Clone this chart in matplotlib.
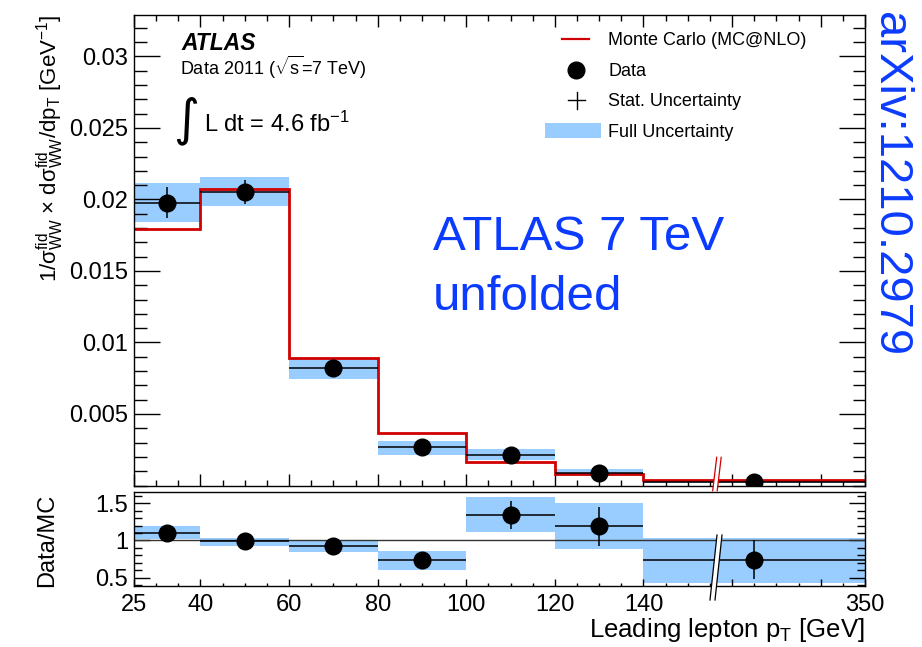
import numpy as np
import matplotlib
matplotlib.use("Agg")
import matplotlib.pyplot as plt
from matplotlib.lines import Line2D
from matplotlib.patches import Polygon, Rectangle
from matplotlib.ticker import MultipleLocator, FixedLocator, FixedFormatter
from matplotlib.transforms import Affine2D

# leading lepton pT bins [GeV]
bin_edges = [25, 40, 60, 80, 100, 120, 140, 350]

# normalised differential cross section (top panel)
data_val = [0.01976, 0.02052, 0.00819, 0.00267, 0.00213, 0.00090, 0.00024]
data_stat = [0.00108, 0.00084, 0.00030, 0.00014, 0.00012, 0.00006, 0.00006]
full_lo = [0.01843, 0.01955, 0.00745, 0.00213, 0.00178, 0.00069, 0.00016]
full_hi = [0.02115, 0.02157, 0.00882, 0.00311, 0.00255, 0.00113, 0.00034]
mc_val = [0.01794, 0.02073, 0.00889, 0.00365, 0.00162, 0.00080, 0.00036]

# Data/MC (bottom panel)
ratio_val = [1.10, 0.99, 0.92, 0.735, 1.34, 1.19, 0.745]
ratio_stat = [0.06, 0.04, 0.04, 0.05, 0.19, 0.265, 0.255]
ratio_lo = [1.02, 0.93, 0.84, 0.60, 1.11, 0.88, 0.43]
ratio_hi = [1.19, 1.04, 1.00, 0.86, 1.58, 1.50, 1.04]

tick_gev = [25, 40, 60, 80, 100, 120, 140, 350]
tick_labels = ["25", "40", "60", "80", "100", "120", "140", "350"]
top_ticks = [0.005, 0.01, 0.015, 0.02, 0.025, 0.03]
top_tick_labels = ["0.005", "0.01", "0.015", "0.02", "0.025", "0.03"]
ratio_ticks = [0.5, 1.0, 1.5]
ratio_tick_labels = ["0.5", "1", "1.5"]

BAND = "#99ccff"
RED = "#d10000"
BLUE = "#0b3bff"

W, H = 922, 647

plt.rcParams.update({
    "font.family": ["Liberation Sans", "DejaVu Sans"],
    "mathtext.fontset": "custom",
    "mathtext.rm": "Liberation Sans",
    "mathtext.it": "Liberation Sans:italic",
    "mathtext.bf": "Liberation Sans:bold",
    "axes.linewidth": 1.0,
})


def to_axis(pt):
    # the axis is compressed above 140 GeV: 140-350 drawn as 140-190
    pt = np.asarray(pt, dtype=float)
    return np.where(pt <= 140, pt, 140 + (pt - 140) * 50.0 / 210.0)


edges = to_axis(bin_edges)
lo = edges[:-1]
hi = edges[1:]
centers = to_axis((np.array(bin_edges[:-1]) + np.array(bin_edges[1:])) / 2)

fig = plt.figure(figsize=(W / 100, H / 100), dpi=100)
pix = Affine2D().scale(1.0 / W, -1.0 / H).translate(0, 1) + fig.transFigure

ax = fig.add_axes([134 / W, 1 - 485.5 / H, 731 / W, 470.5 / H])
rax = fig.add_axes([134 / W, 1 - 586 / H, 731 / W, 94 / H])

# ---- top panel
ax.bar(lo, np.array(full_hi) - np.array(full_lo), width=hi - lo, bottom=full_lo,
       align="edge", color=BAND, lw=0, zorder=1)
ax.stairs(mc_val, edges, baseline=None, color=RED, lw=2.0, zorder=2)
ax.errorbar(centers, data_val, xerr=[centers - lo, hi - centers], yerr=data_stat,
            fmt="o", ms=12, mfc="black", mec="black", ecolor="black",
            elinewidth=1.1, capsize=0, zorder=4)
ax.set_xlim(edges[0], edges[-1])
ax.set_ylim(0, 0.0329)

# ---- ratio panel
rax.bar(lo, np.array(ratio_hi) - np.array(ratio_lo), width=hi - lo, bottom=ratio_lo,
        align="edge", color=BAND, lw=0, zorder=1)
rax.axhline(1.0, color="#333333", lw=1.0, zorder=2)
rax.errorbar(centers, ratio_val, xerr=[centers - lo, hi - centers], yerr=ratio_stat,
             fmt="o", ms=12, mfc="black", mec="black", ecolor="black",
             elinewidth=1.1, capsize=0, zorder=4)
rax.set_xlim(edges[0], edges[-1])
rax.set_ylim(0.39, 1.65)

# ---- ticks
major_x = sorted(set(list(to_axis(tick_gev))) | {160.0, 180.0})
label_map = dict(zip([float(v) for v in to_axis(tick_gev)], tick_labels))
major_lbl = [label_map.get(float(v), "") for v in major_x]

for a in (ax, rax):
    a.xaxis.set_major_locator(FixedLocator(major_x))
    a.xaxis.set_minor_locator(MultipleLocator(5))

ax.xaxis.set_major_formatter(FixedFormatter([""] * len(major_x)))
rax.xaxis.set_major_formatter(FixedFormatter(major_lbl))

ax.yaxis.set_major_locator(FixedLocator(top_ticks))
ax.yaxis.set_major_formatter(FixedFormatter(top_tick_labels))
ax.yaxis.set_minor_locator(MultipleLocator(0.001))
rax.yaxis.set_major_locator(FixedLocator(ratio_ticks))
rax.yaxis.set_major_formatter(FixedFormatter(ratio_tick_labels))
rax.yaxis.set_minor_locator(MultipleLocator(0.1))

ax.tick_params(which="both", direction="in", top=True, right=True, width=1.0)
ax.tick_params(axis="y", which="major", length=18.5, labelsize=17, pad=4.3)
ax.tick_params(axis="y", which="minor", length=9)
ax.tick_params(axis="x", which="major", length=8.6)
ax.tick_params(axis="x", which="minor", length=4.3)

rax.tick_params(which="both", direction="in", top=False, right=True, width=1.0)
rax.tick_params(axis="y", which="major", length=11.5, labelsize=17, pad=4.3)
rax.tick_params(axis="y", which="minor", length=5.8)
rax.tick_params(axis="x", which="major", length=5, labelsize=17, pad=6)
rax.tick_params(axis="x", which="minor", length=2.5)

# ---- axis labels
fig.text(50, 148,
         r"1/σ$^{\rm fid}_{\rm WW}$ × dσ$^{\rm fid}_{\rm WW}$/dp$_{\rm T}$ [GeV$^{{-}1}$]",
         transform=pix, rotation=90, ha="center", va="center", fontsize=16)
fig.text(47, 540, "Data/MC", transform=pix, rotation=90, ha="center", va="center",
         fontsize=17)
fig.text(865, 637, r"Leading lepton p$_{\rm T}$ [GeV]", transform=pix,
         ha="right", va="baseline", fontsize=18.5)

# ---- ATLAS labels
fig.text(181, 50, "ATLAS", transform=pix, fontsize=16.5, fontweight="bold",
         fontstyle="italic", va="baseline")
fig.text(180, 75, r"Data 2011 ($\sqrt{\rm s}$=7 TeV)", transform=pix, fontsize=13,
         va="baseline")
fig.text(186, 121, "∫", transform=pix, fontsize=36, family="DejaVu Sans",
         ha="center", va="center")
fig.text(204, 132, r"L dt = 4.6 fb$^{{-}1}$", transform=pix, fontsize=17,
         va="baseline")

# ---- legend
leg_x = 608
fig.add_artist(Line2D([562, 589], [39, 39], color=RED, lw=1.6, transform=pix))
fig.text(leg_x, 45, "Monte Carlo (MC@NLO)", transform=pix, fontsize=13, va="baseline")
fig.add_artist(Line2D([576], [70], marker="o", ms=12, color="black", ls="none",
                      transform=pix))
fig.text(leg_x, 76, "Data", transform=pix, fontsize=13, va="baseline")
fig.add_artist(Line2D([568, 585], [100, 100], color="black", lw=1.0, transform=pix))
fig.add_artist(Line2D([576.5, 576.5], [91.5, 108.5], color="black", lw=1.0,
                      transform=pix))
fig.text(leg_x, 106, "Stat. Uncertainty", transform=pix, fontsize=13, va="baseline")
fig.add_artist(Rectangle((545, 123), 56, 15, transform=pix, fc=BAND, ec="none"))
fig.text(leg_x, 137, "Full Uncertainty", transform=pix, fontsize=13, va="baseline")

# ---- annotations
fig.text(433, 250, "ATLAS 7 TeV", transform=pix, fontsize=35.5, color=BLUE,
         va="baseline")
fig.text(433, 310, "unfolded", transform=pix, fontsize=35.5, color=BLUE,
         va="baseline")
fig.text(890, 184, "arXiv:1210.2979", transform=pix, fontsize=34, color=BLUE,
         rotation=270, ha="center", va="center")

# ---- axis break marks
def axis_break(x0, y0, x1, y1, gap, color):
    poly = Polygon([(x0, y0), (x1, y1), (x1 + gap, y1), (x0 + gap, y0)],
                   closed=True, transform=pix, fc="white", ec="none", zorder=10)
    fig.add_artist(poly)
    for dx in (0, gap):
        fig.add_artist(Line2D([x0 + dx, x1 + dx], [y0, y1], color=color, lw=0.9,
                              transform=pix, zorder=11))


axis_break(712.7, 490.7, 716.7, 457.3, 4.5, RED)
axis_break(710.0, 600.0, 717.0, 535.0, 5.0, "black")

fig.savefig("out.png", dpi=100)
